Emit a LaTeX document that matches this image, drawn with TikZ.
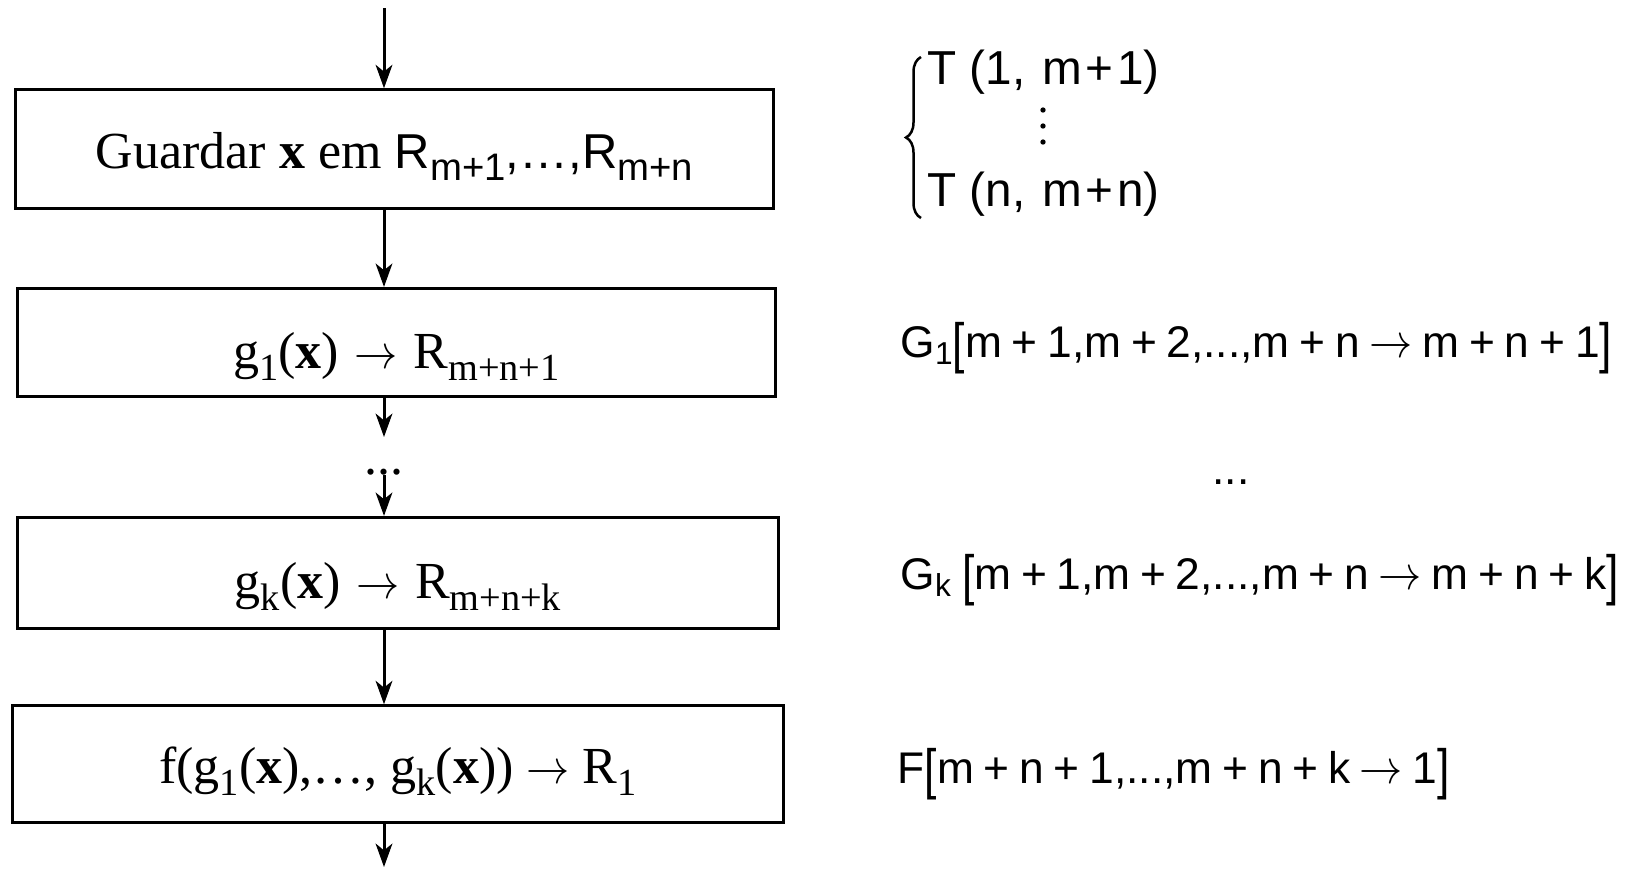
\documentclass[tikz,border=0pt]{standalone}
\usepackage{fontspec}
\setmainfont{Liberation Serif}
\setsansfont{Liberation Sans}
\usetikzlibrary{arrows.meta,decorations.pathreplacing}
\newcommand\ssub[1]{\raisebox{-3.6pt}{\fontsize{11.5}{13}\selectfont #1}}
\newcommand\rsub[1]{\raisebox{-2.2pt}{\fontsize{9.5}{10}\selectfont #1}}
\newcommand\pl{\hspace{0.22em}+\hspace{0.22em}}
\newcommand\mto{\scalebox{0.9}[1]{$\rightarrow$}}
\newcommand\arr{\hspace{0.22em}\mto\hspace{0.22em}}
\newcommand\bbr[1]{\raisebox{-0.12em}{\scalebox{1}[1.25]{#1}}}
\tikzset{
  box/.style={draw, rectangle, line width=0.85pt, inner sep=0pt,
    text height=#1, text depth=0pt, font=\fontsize{15.6}{18}\selectfont},
  flow/.style={->, line width=0.9pt},
  rtext/.style={anchor=base west, inner sep=0pt, font=\sffamily\fontsize{13.3}{15}\selectfont},
  ttext/.style={anchor=base west, inner sep=0pt, font=\sffamily\fontsize{14.3}{16}\selectfont},
  dotsnode/.style={inner sep=0pt}
}
\begin{document}
\begin{tikzpicture}[x=0.3pt, y=-0.3pt,
  >={Stealth[length=7pt,width=5pt,inset=2pt]}]
\useasboundingbox (0,0) rectangle (1632,871);

% boxes
\node[box=11.4pt, minimum width=227.3pt, minimum height=35.6pt] (b1) at (394.5,149)
  {Guardar \textbf{x} em {\sffamily\fontsize{14.7}{17}\selectfont R\ssub{m+1},…,R\ssub{m+n}}};
\node[box=15.3pt, minimum width=227.3pt, minimum height=32.5pt] (b2) at (396.5,342.5)
  {g\ssub{1}(\textbf{x})\hspace{0.3em}\mto\hspace{0.3em}R\ssub{m+n+1}};
\node[box=15pt, minimum width=228.2pt, minimum height=33.4pt] (b3) at (398,573)
  {g\ssub{k}(\textbf{x})\hspace{0.3em}\mto\hspace{0.3em}R\ssub{m+n+k}};
\node[box=11.4pt, minimum width=231.4pt, minimum height=35pt] (b4) at (398,764)
  {f(g\ssub{1}(\textbf{x}),…, g\ssub{k}(\textbf{x})) \mto{} R\ssub{1}};

% flow arrows
\coordinate (top) at (384,8);
\coordinate (gap) at (384,437);
\coordinate (bot) at (384,867);
\node[dotsnode, font=\fontsize{15.6}{18}\selectfont, anchor=base] (vd) at (384,474) {...};
\draw[flow] (top) -- (top |- b1.north);
\draw[flow] (b1.south -| top) -- (b2.north -| top);
\draw[flow] (b2.south -| top) -- (gap);
\draw[flow] (vd.south -| top) -- (b3.north -| top);
\draw[flow] (b3.south -| top) -- (b4.north -| top);
\draw[flow] (b4.south -| top) -- (bot);

% right side
\coordinate (brB) at (921,218);
\coordinate (brT) at (921,57);
\draw[line width=0.75pt, decorate, decoration={brace, amplitude=4.5pt}] (brB) -- (brT);
\node[ttext] (t1) at (927,84) {T (1,\hspace{0.35em}m\hspace{0.08em}+\hspace{0.08em}1)};
\node[ttext] (t2) at (927,206) {T (n,\hspace{0.35em}m\hspace{0.08em}+\hspace{0.08em}n)};
\coordinate (v1) at (1043,110);
\coordinate (v2) at (1043,126);
\coordinate (v3) at (1043,142);
\foreach \p in {v1,v2,v3} \fill (\p) circle (0.8pt);

\node[rtext] (g1) at (900,357)
  {G\rsub{1}\bbr{[}m\pl 1,m\pl 2,...,m\pl n\arr m\pl n\pl 1\bbr{]}};
\node[dotsnode, anchor=base, font=\sffamily\fontsize{13.3}{15}\selectfont] (rd) at (1231,484) {...};
\node[rtext] (gk) at (900,589)
  {G\rsub{k}\hspace{0.25em}\bbr{[}m\pl 1,m\pl 2,...,m\pl n\arr m\pl n\pl k\bbr{]}};
\node[rtext] (ff) at (897,783)
  {F\bbr{[}m\pl n\pl 1,...,m\pl n\pl k\arr 1\bbr{]}};
\end{tikzpicture}
\end{document}
